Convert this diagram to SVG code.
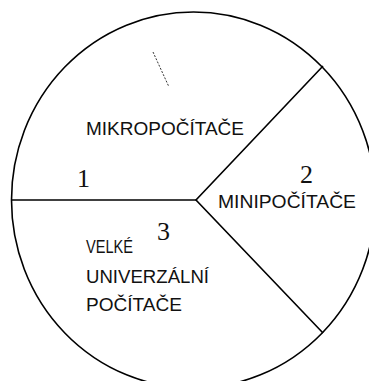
<svg xmlns="http://www.w3.org/2000/svg" width="369" height="381" viewBox="0 0 369 381">
<style>
.ln{fill:none;stroke:#000;stroke-width:1.6}
.lab{font-family:"Liberation Sans",Arial,sans-serif;font-size:19px;fill:#111}
.num{font-family:"Liberation Serif","Times New Roman",serif;font-size:26px;fill:#111}
</style>
<rect width="369" height="381" fill="#fff"/>
<g id="pie">
<ellipse class="ln" cx="193.5" cy="200" rx="182" ry="188"/>
</g>
<g id="connectors">
<line class="ln" x1="12" y1="200" x2="196" y2="200"/>
<path class="ln" d="M323,66 L196,200 L323,333"/>
<line x1="153" y1="52" x2="169" y2="87" stroke="#000" stroke-width="0.8" stroke-dasharray="2 1.5"/>
</g>
<g id="n1">
<text class="lab" x="86" y="135" textLength="158" lengthAdjust="spacingAndGlyphs">MIKROPOČÍTAČE</text>
<text class="num" x="77" y="187">1</text>
</g>
<g id="n2">
<text class="num" x="300" y="183">2</text>
<text class="lab" x="218" y="208" textLength="138" lengthAdjust="spacingAndGlyphs">MINIPOČÍTAČE</text>
</g>
<g id="n3">
<text class="num" x="157" y="240">3</text>
<text class="lab" x="86" y="253" textLength="47" lengthAdjust="spacingAndGlyphs">VELKÉ</text>
<text class="lab" x="86" y="283" textLength="123" lengthAdjust="spacingAndGlyphs">UNIVERZÁLNÍ</text>
<text class="lab" x="86" y="311" textLength="96" lengthAdjust="spacingAndGlyphs">POČÍTAČE</text>
</g>
</svg>
